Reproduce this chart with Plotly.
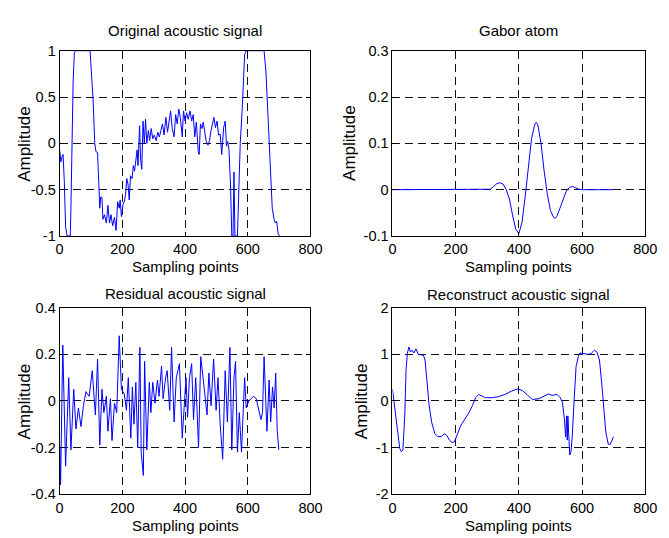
import plotly.graph_objects as go

W, H = 669, 538

# ---------------- data ----------------
orig_x = [0, 4, 8, 11, 15, 19, 24, 34, 36, 39, 43, 47, 52, 97, 102, 107, 112, 116, 121, 125, 128, 131, 135,
          138, 143, 149, 154, 159, 164, 169, 175, 180, 185, 190, 193, 197, 202, 206, 210, 214, 218, 222, 226,
          231, 235, 239, 243, 247, 250, 255, 258, 262, 266, 270, 274, 278, 283, 287, 292, 297, 302, 308, 313,
          318, 323, 328, 333, 339, 344, 349, 354, 359, 365, 370, 375, 380, 385, 391, 395, 400, 405, 410, 416,
          421, 426, 431, 436, 442, 445, 449, 454, 458, 463, 467, 473, 478, 483, 488, 492, 497, 502, 507, 512,
          517, 523, 528, 532, 536, 540, 545, 549, 553, 556, 559, 567, 571, 576, 582, 586, 590, 595, 652, 658,
          663, 668, 673, 678, 684, 688, 692, 697, 702]
orig_y = [-0.07, -0.2, -0.14, -0.12, -0.42, -0.9, -1, -1, -0.7, 0.0, 0.66, 0.98, 1, 1, 0.77, 0.45, 0.0,
          -0.09, -0.1, -0.49, -0.7, -0.58, -0.58, -0.82, -0.77, -0.86, -0.67, -0.86, -0.77, -0.89, -0.8, -0.94,
          -0.63, -0.7, -0.61, -0.79, -0.66, -0.63, -0.56, -0.38, -0.44, -0.61, -0.35, -0.38, -0.24, -0.3, -0.21,
          -0.07, -0.24, 0.19, -0.17, -0.28, 0.24, 0.0, 0.26, 0.0, 0.14, 0.03, 0.16, 0.05, 0.09, 0.03, 0.12, 0.07,
          0.14, 0.21, 0.09, 0.28, 0.12, 0.23, 0.35, 0.16, 0.07, 0.31, 0.21, 0.37, 0.28, 0.07, 0.35, 0.24, 0.33,
          0.26, 0.35, 0.24, 0.31, 0.07, 0.23, -0.09, -0.12, 0.21, 0.16, 0.23, 0.09, 0.03, -0.02, 0.03, 0.14,
          0.21, 0.28, 0.17, 0.24, 0.09, 0.1, -0.12, 0.17, 0.24, -0.03, 0.02, -0.07, -0.45, -1, -1, -0.31, -1, -1,
          -0.56, 0.0, 0.35, 0.59, 0.96, 1, 1, 0.77, 0.42, 0.0, -0.38, -0.7, -0.82, -0.86, -0.84, -0.98, -1]

gabor_x = [0, 300, 310, 320, 330, 340, 350, 360, 370, 380, 390, 400, 410, 420, 430, 440, 450, 455, 460, 470,
           480, 490, 500, 510, 515, 520, 530, 540, 550, 560, 570, 580, 590, 600, 700]
gabor_y = [0, 0, 0.001, 0.007, 0.013, 0.015, 0.012, 0.0, -0.02, -0.055, -0.085, -0.095, -0.07, -0.015, 0.05,
           0.11, 0.14, 0.145, 0.14, 0.1, 0.04, -0.01, -0.045, -0.06, -0.062, -0.058, -0.04, -0.02, -0.003, 0.005,
           0.007, 0.004, 0.001, 0, 0]

res_x = [1, 3, 10, 19, 29, 36, 45, 52, 60, 68, 76, 84, 94, 104, 114, 121, 128, 135, 141, 149, 154, 162, 167,
         175, 182, 190, 197, 206, 213, 219, 227, 232, 237, 243, 249, 256, 260, 267, 271, 278, 286, 291, 297,
         304, 312, 317, 325, 330, 338, 343, 351, 357, 365, 372, 377, 382, 391, 398, 403, 408, 414, 421, 427,
         434, 443, 450, 457, 463, 470, 476, 483, 491, 499, 505, 512, 520, 528, 535, 543, 549, 556, 561, 567,
         573, 580, 586, 590, 595, 603, 611, 619, 627, 634, 642, 647, 652, 661, 668, 673, 679, 684, 689, 694, 699]
res_y = [-0.2, -0.36, 0.24, -0.28, 0.1, -0.21, 0.05, -0.12, -0.03, -0.11, -0.02, 0.04, 0.02, 0.13, -0.06,
         0.18, -0.19, 0.05, -0.05, 0.02, -0.13, 0.01, -0.17, -0.01, -0.05, 0.28, 0.05, 0.03, -0.04, 0.1, -0.16,
         0.06, -0.1, 0.08, -0.2, 0.23, -0.22, -0.32, 0.17, -0.21, 0.08, -0.05, 0.08, -0.01, 0.09, 0.02, 0.15,
         0.01, 0.1, 0.13, -0.04, 0.23, -0.09, 0.1, 0.13, 0.16, -0.16, 0.01, 0.1, -0.07, 0.1, 0.16, -0.08, 0.1,
         -0.2, 0.19, 0.09, 0.03, -0.06, 0.12, -0.02, 0.18, -0.04, 0.1, -0.1, -0.25, 0.13, -0.09, 0.23, -0.21,
         0.1, 0.17, -0.22, -0.05, -0.22, -0.05, 0.1, -0.03, 0.0, 0.01, 0.02, 0.01, -0.03, -0.08, -0.05, 0.19,
         -0.13, 0.09, -0.09, 0.06, -0.03, 0.12, -0.13, -0.21]

rec_x = [0, 7, 15, 23, 28, 33, 39, 43, 47, 52, 57, 62, 68, 74, 82, 98, 103, 110, 116, 124, 134, 144, 155,
         165, 172, 180, 188, 196, 206, 216, 229, 242, 253, 263, 273, 284, 294, 314, 335, 356, 376, 397, 412,
         428, 443, 464, 479, 493, 505, 521, 531, 538, 544, 548, 551, 553, 555, 558, 561, 565, 569, 575, 581,
         588, 593, 603, 619, 629, 639, 647, 655, 663, 670, 675, 683, 689, 694, 699]
rec_y = [0.25, -0.18, -0.67, -1.02, -1.09, -1.05, -0.3, 0.67, 1.02, 1.16, 1.05, 1.09, 1.03, 1.12, 1.0, 0.98,
         0.88, 0.32, -0.1, -0.46, -0.7, -0.77, -0.76, -0.7, -0.74, -0.84, -0.89, -0.88, -0.7, -0.53, -0.39,
         -0.25, -0.1, 0.07, 0.14, 0.1, 0.07, 0.07, 0.09, 0.14, 0.21, 0.26, 0.22, 0.12, 0.03, 0.05, 0.1, 0.15,
         0.12, 0.14, 0.07, -0.04, -0.39, -0.77, -0.32, -0.84, -0.32, -0.77, -1.16, -1.09, -0.74, 0.04, 0.74,
         0.95, 1.03, 1.02, 1.0, 1.02, 1.09, 1.05, 0.88, 0.32, -0.25, -0.67, -0.93, -0.93, -0.86, -0.77]

titles = ["Original acoustic signal", "Gabor atom", "Residual acoustic signal", "Reconstruct acoustic signal"]
x_label = "Sampling points"
y_label = "Amplitude"

x_ticks = [0, 200, 400, 600, 800]
x_ticktext = ["0", "200", "400", "600", "800"]
y_ticks = [
    ([-1, -0.5, 0, 0.5, 1], ["-1", "-0.5", "0", "0.5", "1"]),
    ([-0.1, 0, 0.1, 0.2, 0.3], ["-0.1", "0", "0.1", "0.2", "0.3"]),
    ([-0.4, -0.2, 0, 0.2, 0.4], ["-0.4", "-0.2", "0", "0.2", "0.4"]),
    ([-2, -1, 0, 1, 2], ["-2", "-1", "0", "1", "2"]),
]
series = [(orig_x, orig_y), (gabor_x, gabor_y), (res_x, res_y), (rec_x, rec_y)]

# ---------------- layout geometry (pixels) ----------------
boxes = [  # left, right, top, bottom
    (57, 314, 44, 235),
    (398, 657, 44, 235),
    (57, 314, 309, 501),
    (398, 657, 309, 501),
]
title_y = [23, 23, 294, 295]
xlab_y = [266, 266, 533, 533]
ylab_x = [21, 354, 21, 367]

FONT = "Liberation Sans, Arial, sans-serif"
fig = go.Figure()
layout = dict(
    width=W, height=H, margin=dict(l=0, r=0, t=0, b=0),
    paper_bgcolor="white", plot_bgcolor="white", showlegend=False,
    font=dict(family=FONT, size=14, color="black"),
)
annotations = []
for i, ((xs, ys), (l, r, t, b)) in enumerate(zip(series, boxes)):
    n = "" if i == 0 else str(i + 1)
    fig.add_trace(go.Scatter(x=xs, y=ys, mode="lines", xaxis="x" + n, yaxis="y" + n,
                             line=dict(color="#0000ff", width=1)))
    tv, tt = y_ticks[i]
    common = dict(showline=True, mirror="ticks", linecolor="black", linewidth=1,
                  ticks="inside", ticklen=4, tickcolor="black", zeroline=False,
                  showgrid=True, gridcolor="#111111", gridwidth=1, griddash="8px,5px",
                  tickfont=dict(family=FONT, size=14.5, color="black"))
    layout["xaxis" + n] = dict(domain=[l / W, r / W], anchor="y" + n, range=[0, 800],
                               tickvals=x_ticks, ticktext=x_ticktext, **common)
    layout["yaxis" + n] = dict(domain=[1 - b / H, 1 - t / H], anchor="x" + n,
                               range=[tv[0], tv[-1]], tickvals=tv, ticktext=tt, **common)
    cx = (l + r) / 2
    annotations.append(dict(text=titles[i], x=cx / W, y=1 - title_y[i] / H, xref="paper", yref="paper",
                            showarrow=False, xanchor="center", yanchor="middle",
                            font=dict(family=FONT, size=15)))
    annotations.append(dict(text=x_label, x=cx / W, y=1 - xlab_y[i] / H, xref="paper", yref="paper",
                            showarrow=False, xanchor="center", yanchor="middle",
                            font=dict(family=FONT, size=15)))
    annotations.append(dict(text=y_label, x=ylab_x[i] / W, y=1 - (t + b) / 2 / H, xref="paper", yref="paper",
                            showarrow=False, xanchor="center", yanchor="middle", textangle=-90,
                            font=dict(family=FONT, size=17)))
layout["annotations"] = annotations
fig.update_layout(**layout)
fig.write_html("out.html")
